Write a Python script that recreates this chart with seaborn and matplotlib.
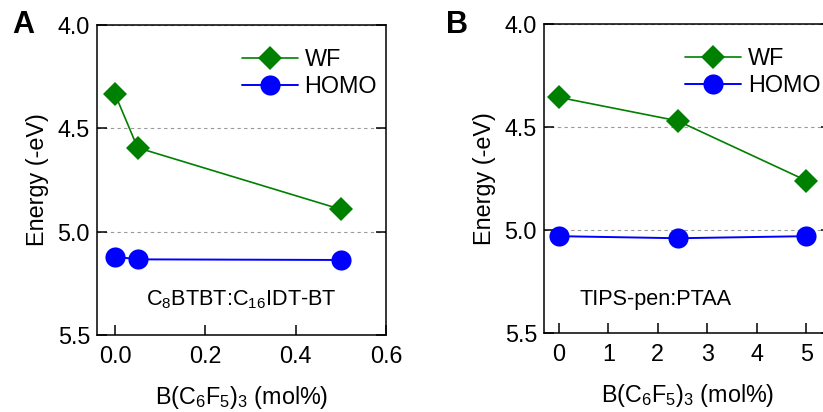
import matplotlib
matplotlib.use("Agg")
import matplotlib.pyplot as plt
import seaborn as sns
import pandas as pd

# ---- data ----
conc_a = [0.0, 0.05, 0.5]
wf_a = [4.335, 4.594, 4.892]
homo_a = [5.121, 5.134, 5.137]

conc_b = [0.0, 2.4, 5.0]
wf_b = [4.356, 4.47, 4.76]
homo_b = [5.03, 5.04, 5.03]

yticks = [4.0, 4.5, 5.0, 5.5]
xticks_a = [0.0, 0.2, 0.4, 0.6]
xticks_b = [0, 1, 2, 3, 4, 5]

sns.set_theme(style="ticks")
plt.rcParams["font.family"] = ["Liberation Sans", "DejaVu Sans"]
plt.rcParams["mathtext.fontset"] = "custom"
plt.rcParams["mathtext.rm"] = "Liberation Sans"
plt.rcParams["mathtext.it"] = "Liberation Sans"
plt.rcParams["mathtext.default"] = "regular"
plt.rcParams["text.color"] = "black"
plt.rcParams["axes.labelcolor"] = "black"

fig = plt.figure(figsize=(8.23, 4.12), dpi=100)
W, H = 823, 412
axA = fig.add_axes([97 / W, 1 - 335 / H, 289 / W, 310 / H])
axB = fig.add_axes([544 / W, 1 - 333 / H, 287 / W, 309 / H])

FS = 16.8
GREEN = "#008000"
BLUE = "#0000ff"


def draw(ax, x, wf, homo, xlim, xticks, xtl, text, tx, ty, tha, lx):
    dwf = pd.DataFrame({"x": x, "E": wf})
    dho = pd.DataFrame({"x": x, "E": homo})
    sns.lineplot(data=dwf, x="x", y="E", ax=ax, color=GREEN, marker="D",
                 markersize=12.5, markeredgecolor=GREEN, markeredgewidth=0,
                 linewidth=1.2, label="WF")
    sns.lineplot(data=dho, x="x", y="E", ax=ax, color=BLUE, marker="o",
                 markersize=14.5, markeredgecolor=BLUE, markeredgewidth=0,
                 linewidth=1.4, label="HOMO")
    ax.set_xlim(*xlim)
    ax.set_ylim(5.5, 4.0)
    ax.set_yticks(yticks)
    ax.set_yticklabels([f"{v:.1f}" for v in yticks], fontsize=FS)
    ax.set_xticks(xticks)
    ax.set_xticklabels(xtl, fontsize=FS)
    ax.tick_params(axis="both", direction="in", length=7, width=1.1, color="black",
                   pad=7, labelcolor="black")
    ax.tick_params(axis="y", right=True, left=True, pad=5)
    ax.tick_params(axis="x", top=False, bottom=True)
    for s in ax.spines.values():
        s.set_visible(True)
        s.set_linewidth(1.1)
        s.set_color("black")
    ax.yaxis.grid(True, linestyle=(0, (3, 3)), color="#999999", linewidth=0.8)
    ax.xaxis.grid(False)
    ax.set_axisbelow(True)
    ax.set_ylabel("Energy (-eV)", fontsize=FS, labelpad=6)
    ax.set_xlabel("B(C$_6$F$_5$)$_3$ (mol%)", fontsize=FS, labelpad=12)
    ax.legend(loc="upper left", bbox_to_anchor=lx, frameon=False,
              fontsize=FS, handlelength=2.4, handletextpad=0.3,
              labelspacing=0.15, borderpad=0, borderaxespad=0)
    ax.text(tx, ty, text, transform=ax.transAxes, fontsize=15.6, ha=tha, va="center")


draw(axA, conc_a, wf_a, homo_a, (-0.04, 0.6), xticks_a,
     ["0.0", "0.2", "0.4", "0.6"], "C$_8$BTBT:C$_{16}$IDT-BT",
     0.50, 0.115, "center", (0.50, 0.925))
draw(axB, conc_b, wf_b, homo_b, (-0.3, 5.5), xticks_b,
     [str(v) for v in xticks_b], "TIPS-pen:PTAA",
     0.125, 0.107, "left", (0.49, 0.925))

fig.text(12 / W, 1 - 25 / H, "A", fontsize=22, fontweight="bold", va="center", ha="left")
fig.text(446 / W, 1 - 25 / H, "B", fontsize=22, fontweight="bold", va="center", ha="left")

fig.savefig("out.png", dpi=100)
